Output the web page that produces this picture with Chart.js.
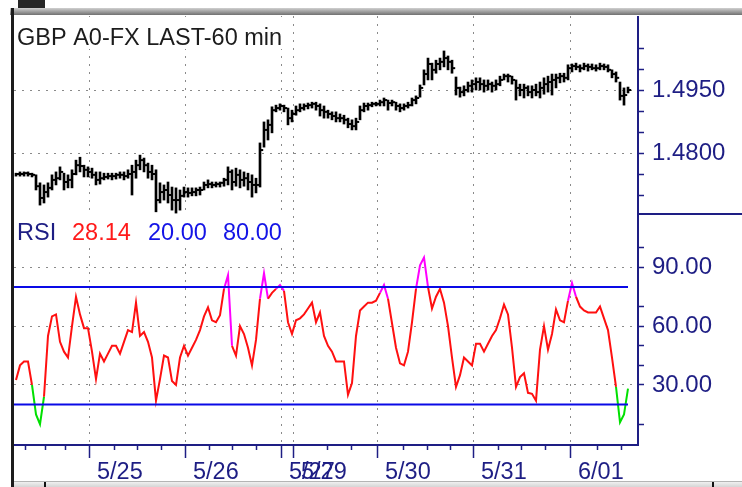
<!DOCTYPE html>
<html>
<head>
<meta charset="utf-8">
<script src="https://cdn.jsdelivr.net/npm/chart.js@4.4.1/dist/chart.umd.min.js"></script>
<style>
  html, body { margin: 0; padding: 0; background: #fff; }
  body { width: 742px; height: 487px; position: relative; overflow: hidden; }
  #topbar { position: absolute; left: 10px; top: 8px; width: 732px; height: 7px; background: linear-gradient(#d0d0d0, #707070); }
  #topblock { position: absolute; left: 18px; top: 0; width: 27px; height: 8px; background: #262626; }
  #leftedge { position: absolute; left: 11px; top: 8px; width: 3px; height: 479px; background: #1c1c1c; }
  #scroll { position: absolute; left: 14px; top: 481px; width: 728px; height: 6px; background: linear-gradient(#f0f0f0, #d0d0d0); border-top: 1px solid #b4b4b4; }
  .grip { position: absolute; top: 482px; width: 2px; height: 5px; background: #111; }
  #wrap { position: absolute; left: 14px; top: 16px; width: 728px; height: 464px; }
</style>
</head>
<body>
<div id="topblock"></div>
<div id="topbar"></div>
<div id="leftedge"></div>
<div id="scroll"></div>
<div class="grip" style="left:44px"></div>
<div class="grip" style="left:712px"></div>
<div id="wrap"><canvas id="chart" width="728" height="464"></canvas></div>
<script>
// GBP A0-FX, 60 min bars with RSI pane

const title = 'GBP A0-FX LAST-60 min';

const highs = [
  1.4752, 1.4755, 1.4755, 1.4755, 1.4752, 1.4748, 1.4729, 1.4724, 1.4729, 1.4748,
  1.4755, 1.4767, 1.4752, 1.4748, 1.4760, 1.4783, 1.4790, 1.4771, 1.4767, 1.4764,
  1.4755, 1.4755, 1.4752, 1.4752, 1.4752, 1.4752, 1.4755, 1.4755, 1.4760, 1.4771,
  1.4783, 1.4795, 1.4788, 1.4776, 1.4771, 1.4760, 1.4729, 1.4724, 1.4731, 1.4719,
  1.4717, 1.4712, 1.4719, 1.4717, 1.4717, 1.4717, 1.4719, 1.4731, 1.4736, 1.4731,
  1.4731, 1.4731, 1.4740, 1.4767, 1.4760, 1.4764, 1.4760, 1.4755, 1.4752, 1.4748,
  1.4740, 1.4824, 1.4874, 1.4879, 1.4910, 1.4914, 1.4917, 1.4914, 1.4907, 1.4902,
  1.4912, 1.4917, 1.4917, 1.4919, 1.4921, 1.4921, 1.4917, 1.4912, 1.4902, 1.4898,
  1.4898, 1.4893, 1.4890, 1.4883, 1.4879, 1.4883, 1.4912, 1.4919, 1.4919, 1.4921,
  1.4921, 1.4926, 1.4931, 1.4926, 1.4926, 1.4921, 1.4917, 1.4917, 1.4921, 1.4931,
  1.4936, 1.4962, 1.4998, 1.5026, 1.5014, 1.5021, 1.5026, 1.5043, 1.5031, 1.5021,
  1.4981, 1.4957, 1.4960, 1.4969, 1.4974, 1.4979, 1.4979, 1.4974, 1.4974, 1.4969,
  1.4974, 1.4983, 1.4988, 1.4988, 1.4983, 1.4974, 1.4964, 1.4964, 1.4960, 1.4960,
  1.4964, 1.4969, 1.4979, 1.4983, 1.4988, 1.4988, 1.4990, 1.4990, 1.5010, 1.5012,
  1.5014, 1.5010, 1.5014, 1.5012, 1.5012, 1.5010, 1.5014, 1.5012, 1.5010, 1.4998,
  1.4993, 1.4969, 1.4955, 1.4957
];
const lows = [
  1.4745, 1.4745, 1.4745, 1.4745, 1.4743, 1.4712, 1.4676, 1.4681, 1.4695, 1.4712,
  1.4724, 1.4736, 1.4712, 1.4717, 1.4717, 1.4748, 1.4755, 1.4743, 1.4743, 1.4740,
  1.4724, 1.4726, 1.4736, 1.4738, 1.4736, 1.4738, 1.4740, 1.4736, 1.4740, 1.4700,
  1.4740, 1.4760, 1.4755, 1.4740, 1.4736, 1.4660, 1.4681, 1.4688, 1.4681, 1.4664,
  1.4657, 1.4664, 1.4695, 1.4695, 1.4698, 1.4698, 1.4700, 1.4712, 1.4717, 1.4717,
  1.4719, 1.4719, 1.4721, 1.4724, 1.4712, 1.4721, 1.4717, 1.4721, 1.4712, 1.4695,
  1.4705, 1.4719, 1.4814, 1.4831, 1.4848, 1.4898, 1.4902, 1.4898, 1.4867, 1.4874,
  1.4890, 1.4898, 1.4902, 1.4905, 1.4907, 1.4902, 1.4888, 1.4883, 1.4883, 1.4879,
  1.4874, 1.4874, 1.4869, 1.4860, 1.4855, 1.4855, 1.4879, 1.4898, 1.4902, 1.4910,
  1.4912, 1.4912, 1.4912, 1.4902, 1.4912, 1.4902, 1.4898, 1.4902, 1.4907, 1.4912,
  1.4917, 1.4933, 1.4962, 1.4974, 1.4974, 1.4990, 1.4998, 1.5005, 1.4998, 1.4990,
  1.4938, 1.4933, 1.4936, 1.4945, 1.4945, 1.4950, 1.4950, 1.4945, 1.4950, 1.4945,
  1.4950, 1.4960, 1.4974, 1.4969, 1.4964, 1.4926, 1.4936, 1.4931, 1.4936, 1.4931,
  1.4936, 1.4931, 1.4940, 1.4945, 1.4938, 1.4955, 1.4967, 1.4969, 1.4974, 1.4993,
  1.4998, 1.4993, 1.4998, 1.4995, 1.4998, 1.4995, 1.4998, 1.4998, 1.4993, 1.4979,
  1.4969, 1.4926, 1.4914, 1.4943
];
const closes = [
  1.4750, 1.4750, 1.4752, 1.4750, 1.4748, 1.4721, 1.4693, 1.4707, 1.4717, 1.4736,
  1.4740, 1.4755, 1.4731, 1.4736, 1.4750, 1.4771, 1.4769, 1.4760, 1.4755, 1.4748,
  1.4736, 1.4740, 1.4743, 1.4745, 1.4745, 1.4748, 1.4748, 1.4745, 1.4750, 1.4755,
  1.4771, 1.4783, 1.4771, 1.4755, 1.4750, 1.4688, 1.4707, 1.4712, 1.4700, 1.4688,
  1.4688, 1.4698, 1.4707, 1.4705, 1.4707, 1.4712, 1.4712, 1.4724, 1.4726, 1.4724,
  1.4726, 1.4729, 1.4736, 1.4755, 1.4731, 1.4748, 1.4736, 1.4740, 1.4731, 1.4724,
  1.4724, 1.4807, 1.4855, 1.4867, 1.4902, 1.4907, 1.4912, 1.4907, 1.4883, 1.4893,
  1.4902, 1.4907, 1.4912, 1.4914, 1.4917, 1.4912, 1.4902, 1.4898, 1.4893, 1.4888,
  1.4883, 1.4883, 1.4879, 1.4869, 1.4864, 1.4874, 1.4902, 1.4912, 1.4914, 1.4917,
  1.4917, 1.4921, 1.4926, 1.4919, 1.4921, 1.4912, 1.4907, 1.4912, 1.4914, 1.4926,
  1.4931, 1.4955, 1.4988, 1.5012, 1.4998, 1.5012, 1.5017, 1.5026, 1.5017, 1.5002,
  1.4955, 1.4945, 1.4950, 1.4960, 1.4964, 1.4969, 1.4964, 1.4960, 1.4964, 1.4960,
  1.4964, 1.4974, 1.4983, 1.4983, 1.4974, 1.4955, 1.4950, 1.4955, 1.4945, 1.4950,
  1.4945, 1.4955, 1.4964, 1.4969, 1.4974, 1.4979, 1.4983, 1.4979, 1.5002, 1.5007,
  1.5005, 1.5002, 1.5007, 1.5005, 1.5002, 1.5002, 1.5007, 1.5005, 1.4998, 1.4988,
  1.4979, 1.4936, 1.4938, 1.4950
];
const rsi = [
  32.5, 40, 42, 42, 30, 15, 10, 24, 55, 65,
  66, 52, 47, 44, 60, 75, 66, 59, 59, 47,
  33, 46, 42, 46, 50, 50, 46, 52, 58, 57,
  72, 55, 57, 52, 44, 22, 33, 45, 44, 32,
  30, 44, 50, 45, 49, 53, 58, 65, 69.6, 63,
  62, 65.6, 79, 86, 50, 45, 60, 56, 49, 40,
  53, 74, 87, 74, 77, 79, 81, 78, 62, 56,
  63, 64, 66, 69, 72, 62, 67, 55, 50, 47,
  42, 42, 42, 25, 31, 55, 68, 70, 72, 72,
  73, 77, 81, 74, 61.5, 49, 41, 40, 47, 62,
  79, 91, 95, 80, 69, 75, 79, 72, 60, 44,
  29, 35, 44, 42, 40, 51, 51, 47, 51, 55,
  58, 64, 71, 66, 49, 29, 34, 36, 26, 25.5,
  22, 48, 60, 48, 56, 68.5, 63, 62, 73, 82,
  75, 70, 68, 67, 67, 67, 70, 64, 58, 44,
  29, 11, 15, 28.14
];
const upperBand = 80;
const lowerBand = 20;

const priceTicks = [1.4700, 1.4750, 1.4800, 1.4850, 1.4900, 1.4950, 1.5000, 1.5050];
const priceLabels = [1.4800, 1.4950];
const rsiTicks = [10, 30, 40, 50, 60, 70, 90, 100];
const rsiLabels = [30, 60, 90];

// day boundaries and 6-hour marks, in bar index units
const dayTicks = [18.25, 42.25, 66.25, 69.25, 90.25, 114.25, 138.5];
const dayLabels = ['5/25', '5/26', '5/27', '5/29', '5/30', '5/31', '6/01'];
const minorTicks = [2.25, 7.25, 12.25, 24.5, 30.25, 36.25, 48.25, 54, 60, 77.75, 83.75,
  96.75, 102.75, 108.5, 120.5, 126.25, 132.25, 145.25, 151.25];

const navy = '#1e1e84';
const dotGrey = '#8a8a8a';
const fontFamily = '"Liberation Sans", Arial, sans-serif';
Chart.defaults.font.family = fontFamily;

const lastIndex = closes.length - 1;
const hasValue = (list, v) => list.some(x => Math.abs(x - v) < 1e-7);

const rangeData = highs.map((h, i) => ({ x: i, y: [lows[i], h] }));
const closeData = closes.map((c, i) => ({ x: i + 0.5, y: c }));
const rsiData = rsi.map((v, i) => ({ x: i, y: v }));
const upperData = [{ x: -0.5, y: upperBand }, { x: lastIndex, y: upperBand }];
const lowerData = [{ x: -0.5, y: lowerBand }, { x: lastIndex, y: lowerBand }];

function rsiColour(c) {
  const a = c.p0.parsed.y, b = c.p1.parsed.y;
  if (a > upperBand || b > upperBand) return '#ff00ff';
  if (a < lowerBand || b < lowerBand) return '#00e000';
  return '#ff1010';
}

const overlay = {
  id: 'overlay',
  beforeDatasetsDraw(chart) {
    const { ctx, chartArea } = chart;
    const yR = chart.scales.yR;
    ctx.save();
    ctx.fillStyle = '#fff';
    ctx.fillRect(chartArea.left, chartArea.top + 1, 272, 32);
    ctx.fillRect(chartArea.left, yR.top + 1, 272, 32);
    ctx.font = '23.5px ' + fontFamily;
    ctx.textBaseline = 'alphabetic';
    ctx.textAlign = 'left';
    ctx.fillStyle = '#1c1c1c';
    ctx.fillText(title, chartArea.left + 3, chartArea.top + 29);
    const legend = [
      ['RSI', navy, 3],
      [rsi[lastIndex].toFixed(2), '#ff1a1a', 58],
      [lowerBand.toFixed(2), '#1414e6', 134],
      [upperBand.toFixed(2), '#1414e6', 209]
    ];
    legend.forEach(([t, col, dx]) => {
      ctx.fillStyle = col;
      ctx.fillText(t, chartArea.left + dx, yR.top + 26);
    });
    ctx.restore();
  },
  afterDraw(chart) {
    const { ctx } = chart;
    const x = chart.scales.x;
    const yR = chart.scales.yR;
    ctx.save();
    ctx.strokeStyle = navy;
    ctx.lineWidth = 1.5;
    minorTicks.forEach(v => {
      const px = Math.round(x.getPixelForValue(v)) + 0.5;
      ctx.beginPath();
      ctx.moveTo(px, x.top);
      ctx.lineTo(px, x.top + 5);
      ctx.stroke();
    });
    ctx.lineWidth = 2;
    ctx.beginPath();
    ctx.moveTo(yR.left, yR.top);
    ctx.lineTo(chart.width, yR.top);
    ctx.stroke();
    ctx.restore();
  }
};

new Chart(document.getElementById('chart'), {
  type: 'bar',
  data: {
    datasets: [{
      type: 'bar',
      data: rangeData,
      yAxisID: 'yP',
      backgroundColor: '#000',
      borderWidth: 0,
      barThickness: 2
    }, {
      type: 'line',
      data: closeData,
      yAxisID: 'yP',
      showLine: false,
      pointStyle: 'line',
      pointRadius: 1.2,
      pointHoverRadius: 1.2,
      pointBorderWidth: 2,
      pointBorderColor: '#000'
    }, {
      type: 'line',
      data: upperData,
      yAxisID: 'yR',
      borderColor: '#0a0ae6',
      borderWidth: 2,
      pointRadius: 0,
      pointHoverRadius: 0
    }, {
      type: 'line',
      data: lowerData,
      yAxisID: 'yR',
      borderColor: '#0a0ae6',
      borderWidth: 2,
      pointRadius: 0,
      pointHoverRadius: 0
    }, {
      type: 'line',
      data: rsiData,
      yAxisID: 'yR',
      borderColor: '#ff1010',
      borderWidth: 2,
      pointRadius: 0,
      pointHoverRadius: 0,
      tension: 0,
      segment: { borderColor: rsiColour }
    }]
  },
  options: {
    responsive: false,
    devicePixelRatio: 1,
    animation: false,
    events: [],
    layout: { padding: 0, autoPadding: false },
    plugins: { legend: { display: false }, tooltip: { enabled: false }, title: { display: false } },
    scales: {
      x: {
        type: 'linear',
        min: -0.5,
        max: 155.5,
        offset: false,
        afterBuildTicks: s => { s.ticks = dayTicks.map(v => ({ value: v })); },
        afterFit: s => { s.height = 35; s.paddingLeft = 0; s.paddingRight = 0; },
        grid: {
          offset: false,
          color: dotGrey,
          lineWidth: 1,
          tickLength: 13,
          tickColor: navy,
          tickWidth: 1.5,
          tickBorderDash: []
        },
        border: { color: navy, width: 2, dash: [2, 6] },
        ticks: {
          callback: (v, i) => dayLabels[i],
          align: 'start',
          labelOffset: 8,
          padding: 0,
          autoSkip: false,
          maxRotation: 0,
          minRotation: 0,
          color: navy,
          font: { size: 23.5 }
        }
      },
      yP: {
        type: 'linear',
        position: 'right',
        stack: 'panes',
        stackWeight: 198,
        min: 1.46548,
        max: 1.51262,
        afterBuildTicks: s => { s.ticks = priceTicks.map(v => ({ value: v })); },
        afterFit: s => { s.width = 104; s.paddingTop = 0; s.paddingBottom = 0; },
        grid: {
          color: c => (c.tick && hasValue(priceLabels, c.tick.value)) ? dotGrey : 'rgba(0,0,0,0)',
          tickLength: 6,
          tickColor: navy,
          tickWidth: 1.5,
          tickBorderDash: []
        },
        border: { color: navy, width: 2, dash: [2, 6] },
        ticks: {
          callback: v => hasValue(priceLabels, v) ? v.toFixed(4) : '',
          autoSkip: false,
          padding: 8,
          color: navy,
          font: { size: 24 }
        }
      },
      yR: {
        type: 'linear',
        position: 'right',
        stack: 'panes',
        stackWeight: 231,
        min: -0.6,
        max: 117.2,
        afterBuildTicks: s => { s.ticks = rsiTicks.map(v => ({ value: v })); },
        afterFit: s => { s.width = 104; s.paddingTop = 0; s.paddingBottom = 0; },
        grid: {
          color: c => (c.tick && hasValue(rsiLabels, c.tick.value)) ? dotGrey : 'rgba(0,0,0,0)',
          tickLength: 6,
          tickColor: navy,
          tickWidth: 1.5,
          tickBorderDash: []
        },
        border: { color: navy, width: 2, dash: [2, 6] },
        ticks: {
          callback: v => hasValue(rsiLabels, v) ? v.toFixed(2) : '',
          autoSkip: false,
          padding: 8,
          color: navy,
          font: { size: 24 }
        }
      }
    }
  },
  plugins: [overlay]
});
</script>
</body>
</html>
